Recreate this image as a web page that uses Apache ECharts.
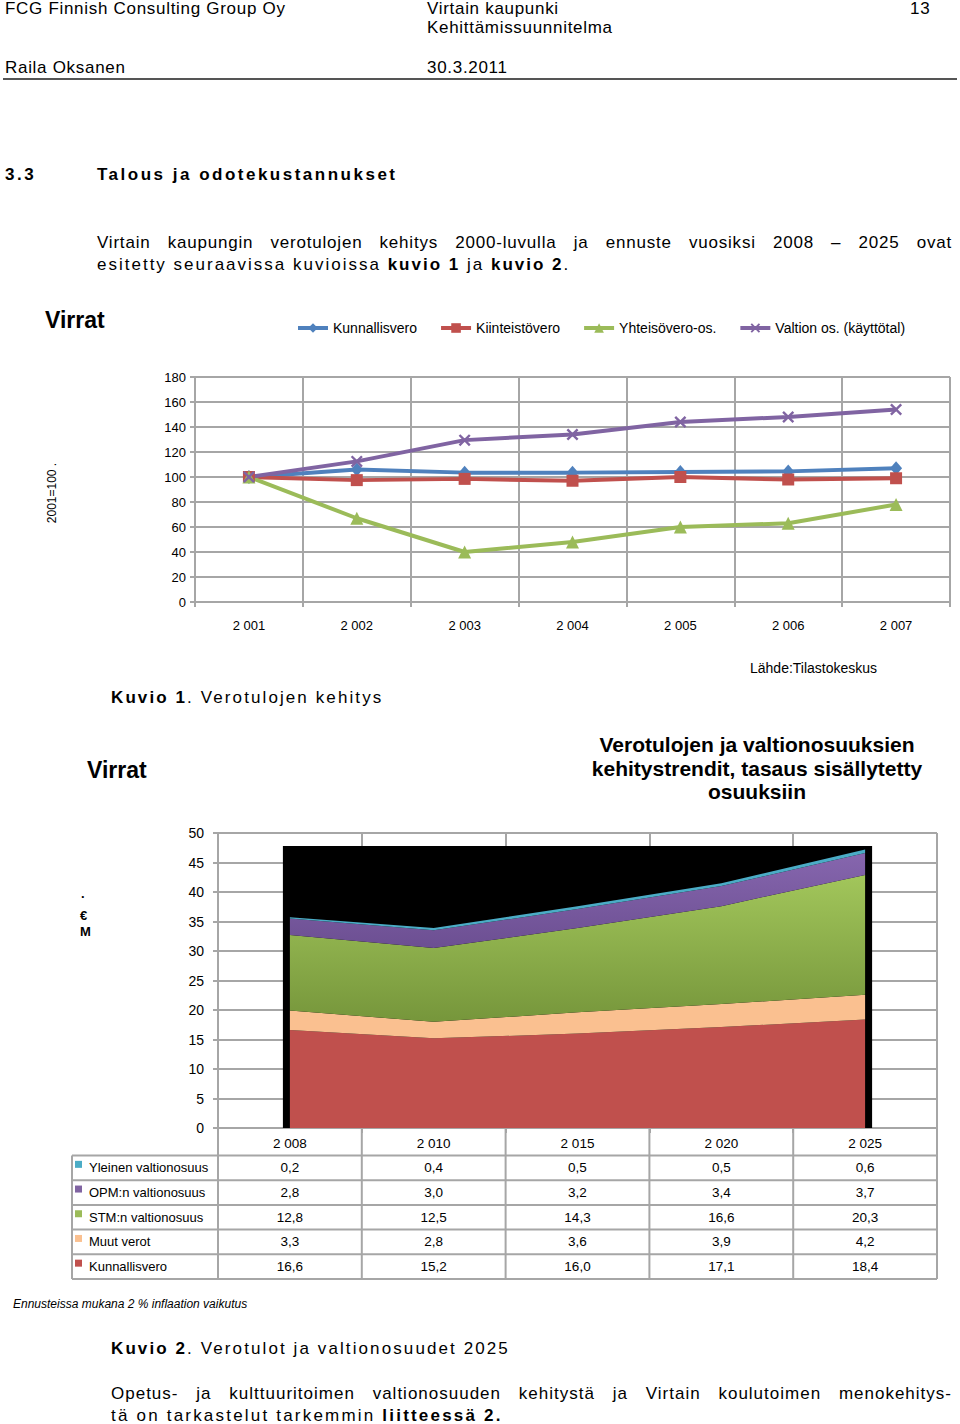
<!DOCTYPE html>
<html>
<head>
<meta charset="utf-8">
<script src="https://cdn.jsdelivr.net/npm/echarts@6/dist/echarts.min.js"></script>
<style>
  html, body { margin: 0; padding: 0; background: #fff; }
  #page { position: relative; width: 960px; height: 1424px; overflow: hidden; }
  #c { position: absolute; left: 0; top: 0; width: 960px; height: 1424px; }
  .t { position: absolute; font-family: 'Liberation Sans', Arial, sans-serif; font-size: 17px; line-height: 20px; color: #000; white-space: nowrap; z-index: 5; }
  .hd { letter-spacing: 0.7px; line-height: 16px; }
  .b { font-weight: bold; }
  .j { text-align: justify; text-align-last: justify; }
  #rule { position: absolute; left: 3px; top: 78px; width: 954px; height: 2px; background: #555; z-index: 5; }
</style>
</head>
<body>
<div id="page">
  <div id="c"></div>
  <div class="t hd" style="left:5px;top:1px;">FCG Finnish Consulting Group Oy</div>
  <div class="t hd" style="left:427px;top:1px;">Virtain kaupunki</div>
  <div class="t hd" style="left:427px;top:20px;">Kehittämissuunnitelma</div>
  <div class="t hd" style="left:910px;top:1px;">13</div>
  <div class="t hd" style="left:5px;top:60px;">Raila Oksanen</div>
  <div class="t hd" style="left:427px;top:60px;">30.3.2011</div>
  <div id="rule"></div>
  <div class="t b" style="left:5px;top:165px;letter-spacing:2.5px;">3.3</div>
  <div class="t b" style="left:97px;top:165px;letter-spacing:2.5px;">Talous ja odotekustannukset</div>
  <div class="t j" style="left:97px;top:233px;width:855px;letter-spacing:0.8px;">Virtain kaupungin verotulojen kehitys 2000-luvulla ja ennuste vuosiksi 2008 – 2025 ovat</div>
  <div class="t" style="left:97px;top:255px;letter-spacing:2px;">esitetty seuraavissa kuvioissa <b>kuvio 1</b> ja <b>kuvio 2</b>.</div>
  <div class="t" style="left:111px;top:688px;letter-spacing:2.1px;"><b>Kuvio 1</b>. Verotulojen kehitys</div>
  <div class="t" style="left:111px;top:1339px;letter-spacing:2.1px;"><b>Kuvio 2</b>. Verotulot ja valtionosuudet 2025</div>
  <div class="t j" style="left:111px;top:1384px;width:841px;letter-spacing:1px;">Opetus- ja kulttuuritoimen valtionosuuden kehitystä ja Virtain koulutoimen menokehitys-</div>
  <div class="t" style="left:111px;top:1406px;letter-spacing:2.2px;">tä on tarkastelut tarkemmin <b>liitteessä 2.</b></div>
</div>
<script>
// ---------- Chart 1 data (index, 2001 = 100) ----------
const years1 = ['2 001', '2 002', '2 003', '2 004', '2 005', '2 006', '2 007'];
const kunnallisvero1 = [100, 106, 103.5, 103.5, 104, 104.5, 107];
const kiinteistovero1 = [100, 97.5, 98.5, 97, 100, 98, 99];
const yhteisovero1 = [100, 67, 40, 48, 60, 63, 78];
const valtionos1 = [100, 112.5, 129.5, 134, 144, 148, 154];
const names1 = ['Kunnallisvero', 'Kiinteistövero', 'Yhteisövero-os.', 'Valtion os. (käyttötal)'];

// ---------- Chart 2 data (M€) ----------
const years2 = ['2 008', '2 010', '2 015', '2 020', '2 025'];
const kunnallisvero2 = [16.6, 15.2, 16.0, 17.1, 18.4];
const muutVerot = [3.3, 2.8, 3.6, 3.9, 4.2];
const stmVos = [12.8, 12.5, 14.3, 16.6, 20.3];
const opmVos = [2.8, 3.0, 3.2, 3.4, 3.7];
const yleinenVos = [0.2, 0.4, 0.5, 0.5, 0.6];
const names2 = ['Kunnallisvero', 'Muut verot', 'STM:n valtionosuus', 'OPM:n valtionosuus', 'Yleinen valtionosuus'];

const chart2Title = 'Verotulojen ja valtionosuuksien\nkehitystrendit, tasaus sisällytetty\nosuuksiin';

const FONT = "'Liberation Sans', Arial, sans-serif";
const GRID = '#A6A6A6';
const C = { blue: '#4F81BD', red: '#C0504D', green: '#9BBB59', purple: '#8064A2', cyan: '#4BACC6', peach: '#FAC090' };
const xSym = 'path://M0,1.4L1.4,0L5,3.6L8.6,0L10,1.4L6.4,5L10,8.6L8.6,10L5,6.4L1.4,10L0,8.6L3.6,5Z';

const chart = echarts.init(document.getElementById('c'), null, { renderer: 'svg', width: 960, height: 1424 });

function axisCommon(extra) {
  return Object.assign({
    axisLine: { show: true, lineStyle: { color: GRID, width: 2 } },
    axisTick: { show: true, length: 5, lineStyle: { color: GRID, width: 2 } },
    splitLine: { show: true, lineStyle: { color: GRID, width: 2 } }
  }, extra);
}

const lineSeries = [
  { name: names1[0], data: kunnallisvero1, color: C.blue, symbol: 'diamond', symbolSize: [12, 14] },
  { name: names1[1], data: kiinteistovero1, color: C.red, symbol: 'rect', symbolSize: 12 },
  { name: names1[2], data: yhteisovero1, color: C.green, symbol: 'triangle', symbolSize: 13 },
  { name: names1[3], data: valtionos1, color: C.purple, symbol: xSym, symbolSize: 12 }
].map(s => ({
  type: 'line', name: s.name, data: s.data, xAxisIndex: 0, yAxisIndex: 0,
  symbol: s.symbol, symbolSize: s.symbolSize, showSymbol: true,
  itemStyle: { color: s.color }, lineStyle: { color: s.color, width: 4 }, z: 3
}));

const areaFills = [
  C.red,
  C.peach,
  { type: 'linear', x: 0, y: 0, x2: 0, y2: 1, colorStops: [{ offset: 0, color: '#A2C65B' }, { offset: 1, color: '#76963B' }] },
  { type: 'linear', x: 0, y: 0, x2: 0, y2: 1, colorStops: [{ offset: 0, color: '#8666AE' }, { offset: 1, color: '#6C4F92' }] },
  C.cyan
];
const areaData = [kunnallisvero2, muutVerot, stmVos, opmVos, yleinenVos];
const areaSeries = areaData.map((d, i) => ({
  type: 'line', name: names2[i], data: d, xAxisIndex: 1, yAxisIndex: 1,
  stack: 'total', symbol: 'none', lineStyle: { width: 0 },
  areaStyle: { color: areaFills[i], opacity: 1 }, itemStyle: { color: typeof areaFills[i] === 'string' ? areaFills[i] : (i === 2 ? C.green : C.purple) },
  z: 3
}));

chart.setOption({
  animation: false,
  backgroundColor: '#fff',
  title: {
    text: chart2Title, left: 752, top: 728, textAlign: 'center',
    textStyle: { fontSize: 21, fontWeight: 'bold', fontFamily: FONT, lineHeight: 23.5, color: '#000' }
  },
  legend: {
    data: names1, left: 291, top: 316, itemWidth: 30, itemHeight: 12, itemGap: 22,
    lineStyle: { width: 4 },
    textStyle: { fontSize: 14, fontFamily: FONT, color: '#000' }
  },
  grid: [
    { left: 195, top: 377, width: 755, height: 225 },
    { left: 218, top: 833, width: 719, height: 295 }
  ],
  xAxis: [
    axisCommon({ type: 'category', gridIndex: 0, data: years1, boundaryGap: true,
      axisLabel: { margin: 17, fontSize: 13, fontFamily: FONT, color: '#000' } }),
    axisCommon({ type: 'category', gridIndex: 1, data: years2, boundaryGap: true,
      axisLabel: { margin: 8, fontSize: 13.5, fontFamily: FONT, color: '#000' } })
  ],
  yAxis: [
    axisCommon({ type: 'value', gridIndex: 0, min: 0, max: 180, interval: 20,
      axisLabel: { margin: 9, fontSize: 13, fontFamily: FONT, color: '#000' } }),
    axisCommon({ type: 'value', gridIndex: 1, min: 0, max: 50, interval: 5,
      axisLabel: { margin: 14, fontSize: 14, fontFamily: FONT, color: '#000' } })
  ],
  series: lineSeries.concat(areaSeries)
});

// ---------- decorations, texts and data table ----------
const g = [];
function txt(x, y, text, opt) {
  opt = opt || {};
  g.push({
    type: 'text', x: x, y: y, rotation: opt.rotation || 0, z: 10,
    style: {
      text: text, fill: '#000', fontFamily: FONT, fontSize: opt.size || 13,
      fontWeight: opt.weight || 'normal', fontStyle: opt.style || 'normal',
      align: opt.align || 'left', verticalAlign: 'middle'
    }
  });
}
function line(x1, y1, x2, y2, color, w) {
  g.push({ type: 'line', z: 10, shape: { x1: x1, y1: y1, x2: x2, y2: y2 }, style: { stroke: color || GRID, lineWidth: w || 2 } });
}

// black plot-area background behind the stacked areas
const totals = years2.map((_, i) => areaData.reduce((s, d) => s + d[i], 0));
const pFirst = chart.convertToPixel({ gridIndex: 1 }, [years2[0], 0]);
const pLast = chart.convertToPixel({ gridIndex: 1 }, [years2[years2.length - 1], 0]);
const yTop = chart.convertToPixel({ yAxisIndex: 1 }, Math.max.apply(null, totals) + 0.6);
g.push({ type: 'rect', z: 1, shape: { x: pFirst[0] - 7, y: yTop, width: pLast[0] - pFirst[0] + 14, height: pFirst[1] - yTop }, style: { fill: '#000' } });

// chart texts
txt(45, 320, 'Virrat', { size: 23, weight: 'bold' });
txt(52, 493, '2001=100 .', { size: 12, rotation: Math.PI / 2, align: 'center' });
txt(750, 668, 'Lähde:Tilastokeskus', { size: 14 });
txt(87, 770, 'Virrat', { size: 23, weight: 'bold' });
txt(81, 893, '.', { size: 13, weight: 'bold' });
txt(80, 915, '€', { size: 13, weight: 'bold' });
txt(80, 931, 'M', { size: 13, weight: 'bold' });
txt(13, 1304, 'Ennusteissa mukana 2 % inflaation vaikutus', { size: 12, style: 'italic' });

// data table under chart 2
const rows = [
  { name: names2[4], color: C.cyan, data: yleinenVos },
  { name: names2[3], color: C.purple, data: opmVos },
  { name: names2[2], color: C.green, data: stmVos },
  { name: names2[1], color: C.peach, data: muutVerot },
  { name: names2[0], color: C.red, data: kunnallisvero2 }
];
const tLeft = 72, tTop = 1155.5, rowH = 24.7;
const gx0 = 218, colW = 719 / years2.length;
const tBottom = tTop + rows.length * rowH;
for (let i = 0; i <= rows.length; i++) line(tLeft, tTop + i * rowH, gx0 + 719, tTop + i * rowH);
line(tLeft, tTop, tLeft, tBottom);
for (let k = 0; k <= years2.length; k++) line(gx0 + k * colW, 1128, gx0 + k * colW, tBottom);
rows.forEach((r, i) => {
  const cy = tTop + (i + 0.5) * rowH;
  g.push({ type: 'rect', z: 10, shape: { x: 75, y: cy - 7, width: 7, height: 7 }, style: { fill: r.color } });
  txt(89, cy, r.name, { size: 13 });
  r.data.forEach((v, k) => {
    const cx = chart.convertToPixel({ xAxisIndex: 1 }, years2[k]);
    txt(cx, cy, v.toFixed(1).replace('.', ','), { size: 13.5, align: 'center' });
  });
});

chart.setOption({ graphic: { elements: g } });
</script>
</body>
</html>
